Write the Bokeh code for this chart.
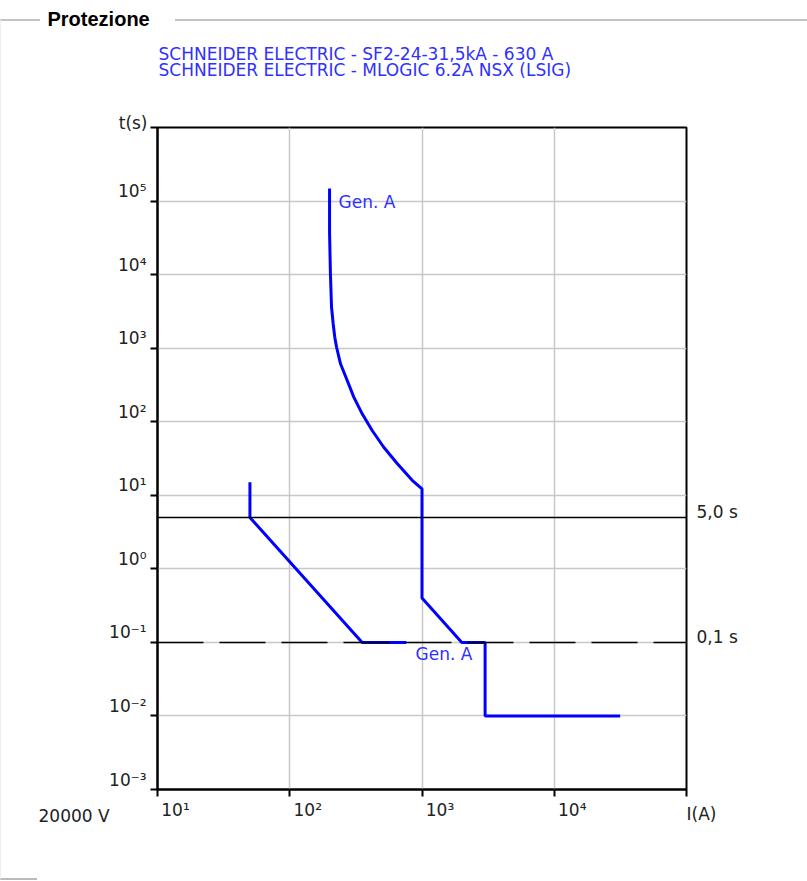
from bokeh.plotting import figure
from bokeh.models import (Label, Span, FixedTicker, CustomJSTickFormatter, InlineStyleSheet)
from bokeh.embed import file_html
from bokeh.resources import INLINE

# ---------------- data ----------------
title_text = "Protezione"
legend_lines = ["SCHNEIDER ELECTRIC - SF2-24-31,5kA - 630 A",
                "SCHNEIDER ELECTRIC - MLOGIC 6.2A NSX (LSIG)"]

x_ticks = [1e1, 1e2, 1e3, 1e4, 1e5]
x_tick_labels = ["10¹", "10²", "10³", "10⁴"]
y_ticks = [1e-3, 1e-2, 1e-1, 1e0, 1e1, 1e2, 1e3, 1e4, 1e5, 1e6]
y_tick_labels = ["10⁻³", "10⁻²", "10⁻¹", "10⁰", "10¹", "10²", "10³", "10⁴", "10⁵"]
x_axis_title = "I(A)"
y_axis_title = "t(s)"
voltage_label = "20000 V"

# time settings (horizontal reference lines)
t_settings = [5.0, 0.1]
t_setting_labels = ["5,0 s", "0,1 s"]

# lower curve
curve1_I = [50, 50, 353, 760]
curve1_t = [15, 5.0, 0.1, 0.1]

# Gen. A curve
curve2_I = [200, 200, 203, 207, 213, 219, 226, 242, 272, 305, 353, 420, 514, 649, 843, 1000,
            1000, 2000, 3000, 3000, 31500]
curve2_t = [148000, 37400, 10350, 3600, 2150, 1410, 1030, 613, 363, 216, 128, 76, 45, 27, 16, 12.2,
            0.4, 0.1, 0.1, 0.01, 0.01]
curve_label = "Gen. A"

# ---------------- layout (pixels) ----------------
W, H = 807, 881
FL, FR, FT, FB = 157, 686, 127, 789
PX_DEC_X = (FR - FL) / 4.0
PX_DEC_Y = (FB - FT) / 9.0
# tick labels sit slightly above (y) / to the right of (x) their tick marks
Y_LABEL_SHIFT = 10 ** (10 / PX_DEC_Y)
X_LABEL_SHIFT = 10 ** (18 / PX_DEC_X)

BLUE = "#0000ff"
TXT_BLUE = "#3030ff"
TXT = "#222222"
FONT = "DejaVu Sans"
FS = "17px"

p = figure(width=W, height=H, x_axis_type="log", y_axis_type="log",
           x_range=(x_ticks[0], x_ticks[-1]), y_range=(y_ticks[0], y_ticks[-1]),
           output_backend="svg", toolbar_location=None,
           min_border_left=FL, min_border_right=W - FR,
           min_border_top=FT, min_border_bottom=H - FB)

p.background_fill_color = "white"
p.border_fill_color = "white"
p.outline_line_color = "black"
p.outline_line_width = 2
p.outline_line_alpha = 1.0

axis_specs = (
    (p.xaxis[0], [t * X_LABEL_SHIFT for t in x_ticks[:len(x_tick_labels)]], x_ticks, x_tick_labels, 3),
    (p.yaxis[0], [t * Y_LABEL_SHIFT for t in y_ticks[:len(y_tick_labels)]], y_ticks, y_tick_labels, 4),
)
for ax, label_pos, ticks, labels, standoff in axis_specs:
    ax.ticker = FixedTicker(ticks=label_pos, minor_ticks=ticks)
    ax.formatter = CustomJSTickFormatter(args=dict(labels=labels), code="return labels[index]")
    ax.axis_line_color = "black"
    ax.axis_line_width = 2
    ax.major_tick_line_color = None
    ax.major_tick_in = 0
    ax.major_tick_out = 0
    ax.minor_tick_line_color = "black"
    ax.minor_tick_line_width = 2
    ax.minor_tick_in = 0
    ax.minor_tick_out = 7
    ax.major_label_standoff = standoff
    ax.major_label_text_font = FONT
    ax.major_label_text_font_size = FS
    ax.major_label_text_color = TXT
    ax.major_label_text_font_style = "normal"

p.xgrid.grid_line_color = "#c8c8c8"
p.ygrid.grid_line_color = "#c8c8c8"
p.xgrid.grid_line_width = 1.5
p.ygrid.grid_line_width = 1.5
p.xgrid.ticker = FixedTicker(ticks=x_ticks, minor_ticks=[])
p.ygrid.ticker = FixedTicker(ticks=y_ticks, minor_ticks=[])

# horizontal setting lines
p.add_layout(Span(location=t_settings[0], dimension="width", line_color="black", line_width=1.5))
p.add_layout(Span(location=t_settings[1], dimension="width", line_color="black", line_width=1.5,
                  line_dash="46 16"))

# curves
p.line(curve1_I, curve1_t, line_color=BLUE, line_width=3)
p.line(curve2_I, curve2_t, line_color=BLUE, line_width=3)


def clabel(sx, sy, text, place=None, **kw):
    opts = dict(text_font=FONT, text_font_size=FS, text_color=TXT,
                text_align="left", text_baseline="alphabetic")
    opts.update(kw)
    lab = Label(x=sx, y=sy, x_units="canvas", y_units="canvas", text=text, **opts)
    if place is None:
        p.add_layout(lab)
    else:
        p.add_layout(lab, place)


# ---------------- texts outside the plot frame (side panels) ----------------
clabel(47, 18, title_text, "above", text_font="Liberation Sans", text_font_style="bold",
       text_font_size="20px", text_color="black", text_baseline="middle")
for i, line in enumerate(legend_lines):
    clabel(158, 53 + i * 16.5, line, "above", text_color=TXT_BLUE, text_baseline="middle")
clabel(147, 122, y_axis_title, "above", text_align="right")

clabel(686, 813, x_axis_title, "below")
clabel(38, 815, voltage_label, "below")

clabel(696, 511, t_setting_labels[0], "right")
clabel(696, 636, t_setting_labels[1], "right")

# ---------------- texts inside the frame ----------------
clabel(338, 201, curve_label, text_color=TXT_BLUE, text_baseline="middle")
clabel(415, 653, curve_label, text_color=TXT_BLUE, text_baseline="middle")

# group-box frame around the chart (decorative)
css = """
:host::before { content: ""; position: absolute; left: 0; top: 19px; width: 807px; height: 2px;
  background: linear-gradient(to right, #c4c4c4 0px, #c4c4c4 40px, transparent 40px,
              transparent 175px, #c4c4c4 175px); z-index: 5; pointer-events: none; }
:host::after { content: ""; position: absolute; left: 0; top: 20px; width: 36px; height: 858px;
  border-left: 1px solid #eeeeee; border-bottom: 2px solid #bbbbbb; z-index: 5; pointer-events: none; }
"""
p.stylesheets = [InlineStyleSheet(css=css)]

open("out.html", "w").write(file_html(p, INLINE))
